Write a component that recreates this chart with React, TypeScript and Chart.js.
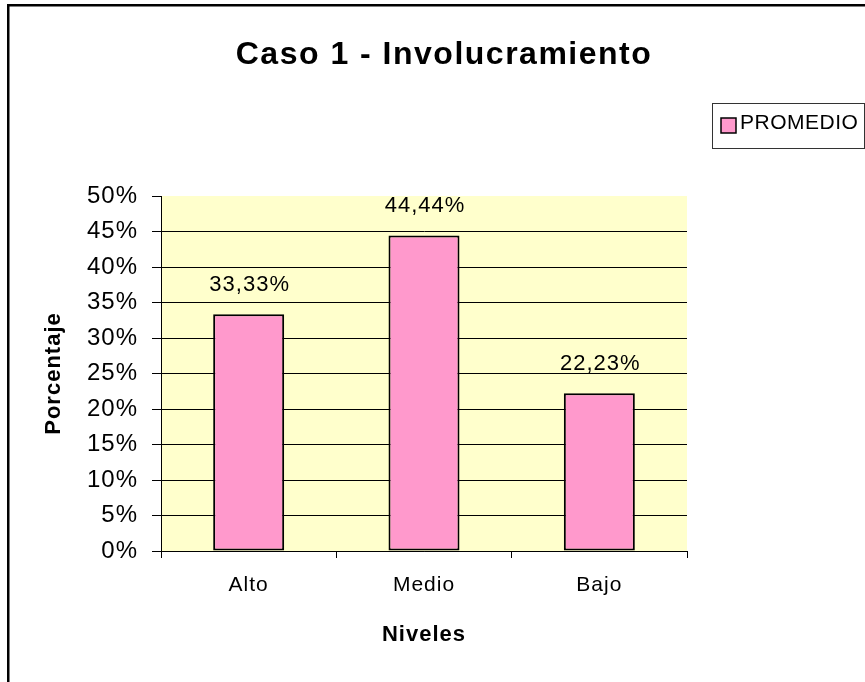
import React, { useEffect, useRef } from 'react';
import { Chart, registerables } from 'chart.js';

Chart.register(...registerables);

const TITLE = 'Caso 1 - Involucramiento';
const categories = ['Alto', 'Medio', 'Bajo'];
const seriesLabel = 'PROMEDIO';
const values = [33.33, 44.44, 22.23];
const yMin = 0;
const yMax = 50;
const yStep = 5;
const xAxisTitle = 'Niveles';
const yAxisTitle = 'Porcentaje';

const FONT = "Arial, 'Liberation Sans', sans-serif";
const BAR_COLOR = '#FF99CC';
const PLOT_BG = '#FFFFCC';

const fmt = (v: number) => v.toFixed(2).replace('.', ',') + '%';

const decor = {
  id: 'decor',
  beforeDraw(chart: any) {
    const { ctx, chartArea: a } = chart;
    ctx.save();
    ctx.fillStyle = '#ffffff';
    ctx.fillRect(0, 0, chart.width, chart.height);
    ctx.fillStyle = PLOT_BG;
    ctx.fillRect(a.left, a.top, a.right - a.left, a.bottom - a.top);
    ctx.restore();
    (ctx as any).letterSpacing = '1px';
  },
  afterDatasetsDraw(chart: any) {
    const { ctx } = chart;
    const meta = chart.getDatasetMeta(0);
    const data = chart.data.datasets[0].data as number[];
    ctx.save();
    (ctx as any).letterSpacing = '1px';
    ctx.font = `22px ${FONT}`;
    ctx.fillStyle = '#000';
    ctx.textAlign = 'center';
    ctx.textBaseline = 'alphabetic';
    meta.data.forEach((el: any, i: number) => {
      ctx.fillText(fmt(data[i]), el.x + 1, el.y - 23);
    });
    ctx.restore();
  },
  afterDraw(chart: any) {
    const { ctx } = chart;
    ctx.save();
    // outer frame
    ctx.strokeStyle = '#000';
    ctx.lineWidth = 2.5;
    ctx.strokeRect(8.25, 5.25, 1000, 1000);
    // title
    (ctx as any).letterSpacing = '1.5px';
    ctx.font = `bold 32px ${FONT}`;
    ctx.fillStyle = '#000';
    ctx.textAlign = 'center';
    ctx.textBaseline = 'alphabetic';
    ctx.fillText(TITLE, 444, 64);
    // legend
    ctx.lineWidth = 1;
    ctx.strokeStyle = '#333';
    ctx.fillStyle = '#fff';
    ctx.fillRect(712.5, 103.5, 152, 45);
    ctx.strokeRect(712.5, 103.5, 152, 45);
    ctx.fillStyle = BAR_COLOR;
    ctx.fillRect(721, 118, 15, 15);
    ctx.strokeStyle = '#000';
    ctx.lineWidth = 1.5;
    ctx.strokeRect(721, 118, 15, 15);
    (ctx as any).letterSpacing = '0.5px';
    ctx.font = `21px ${FONT}`;
    ctx.fillStyle = '#000';
    ctx.textAlign = 'left';
    ctx.fillText(chart.data.datasets[0].label, 740, 129);
    ctx.restore();
  },
};

export default function App() {
  const ref = useRef<HTMLCanvasElement | null>(null);
  useEffect(() => {
    if (!ref.current) return;
    const chart = new Chart(ref.current, {
      type: 'bar',
      data: {
        labels: categories,
        datasets: [
          {
            label: seriesLabel,
            data: values,
            backgroundColor: BAR_COLOR,
            borderColor: '#000',
            borderWidth: 2,
            borderSkipped: false,
            categoryPercentage: 1,
            barPercentage: 0.405,
          },
        ],
      },
      options: {
        responsive: false,
        animation: false,
        layout: { padding: { left: 30, right: 178, top: 196, bottom: 0 } },
        plugins: {
          legend: { display: false },
          title: { display: false },
          tooltip: { enabled: false },
        },
        scales: {
          x: {
            grid: {
              offset: true,
              drawOnChartArea: false,
              drawTicks: true,
              tickLength: 7,
              color: '#000',
              tickColor: '#000',
            },
            border: { display: true, color: '#000', width: 1 },
            ticks: { color: '#000', font: { family: FONT, size: 21 }, padding: 15 },
            title: {
              display: true,
              text: xAxisTitle,
              color: '#000',
              font: { family: FONT, size: 22, weight: 'bold' },
              padding: { top: 0, bottom: 34 },
            },
            afterFit: (s: any) => {
              s.height = 131;
            },
          },
          y: {
            min: yMin,
            max: yMax,
            ticks: {
              stepSize: yStep,
              callback: (v: any) => v + '%',
              color: '#000',
              font: { family: FONT, size: 24 },
              padding: 14,
            },
            grid: {
              color: (c: any) => (c.tick && c.tick.value === yMax ? 'rgba(0,0,0,0)' : '#000'),
              tickColor: '#000',
              tickLength: 9,
            },
            border: { display: true, color: '#000', width: 1 },
            title: {
              display: true,
              text: yAxisTitle,
              color: '#000',
              font: { family: FONT, size: 22, weight: 'bold' },
              padding: { top: 11, bottom: 0 },
            },
            afterFit: (s: any) => {
              s.width = 131;
            },
          },
        },
      } as any,
      plugins: [decor],
    });
    return () => chart.destroy();
  }, []);
  return (
    <canvas
      ref={ref}
      width={865}
      height={682}
      style={{ position: 'absolute', left: 0, top: 0, width: 865, height: 682 }}
    />
  );
}
